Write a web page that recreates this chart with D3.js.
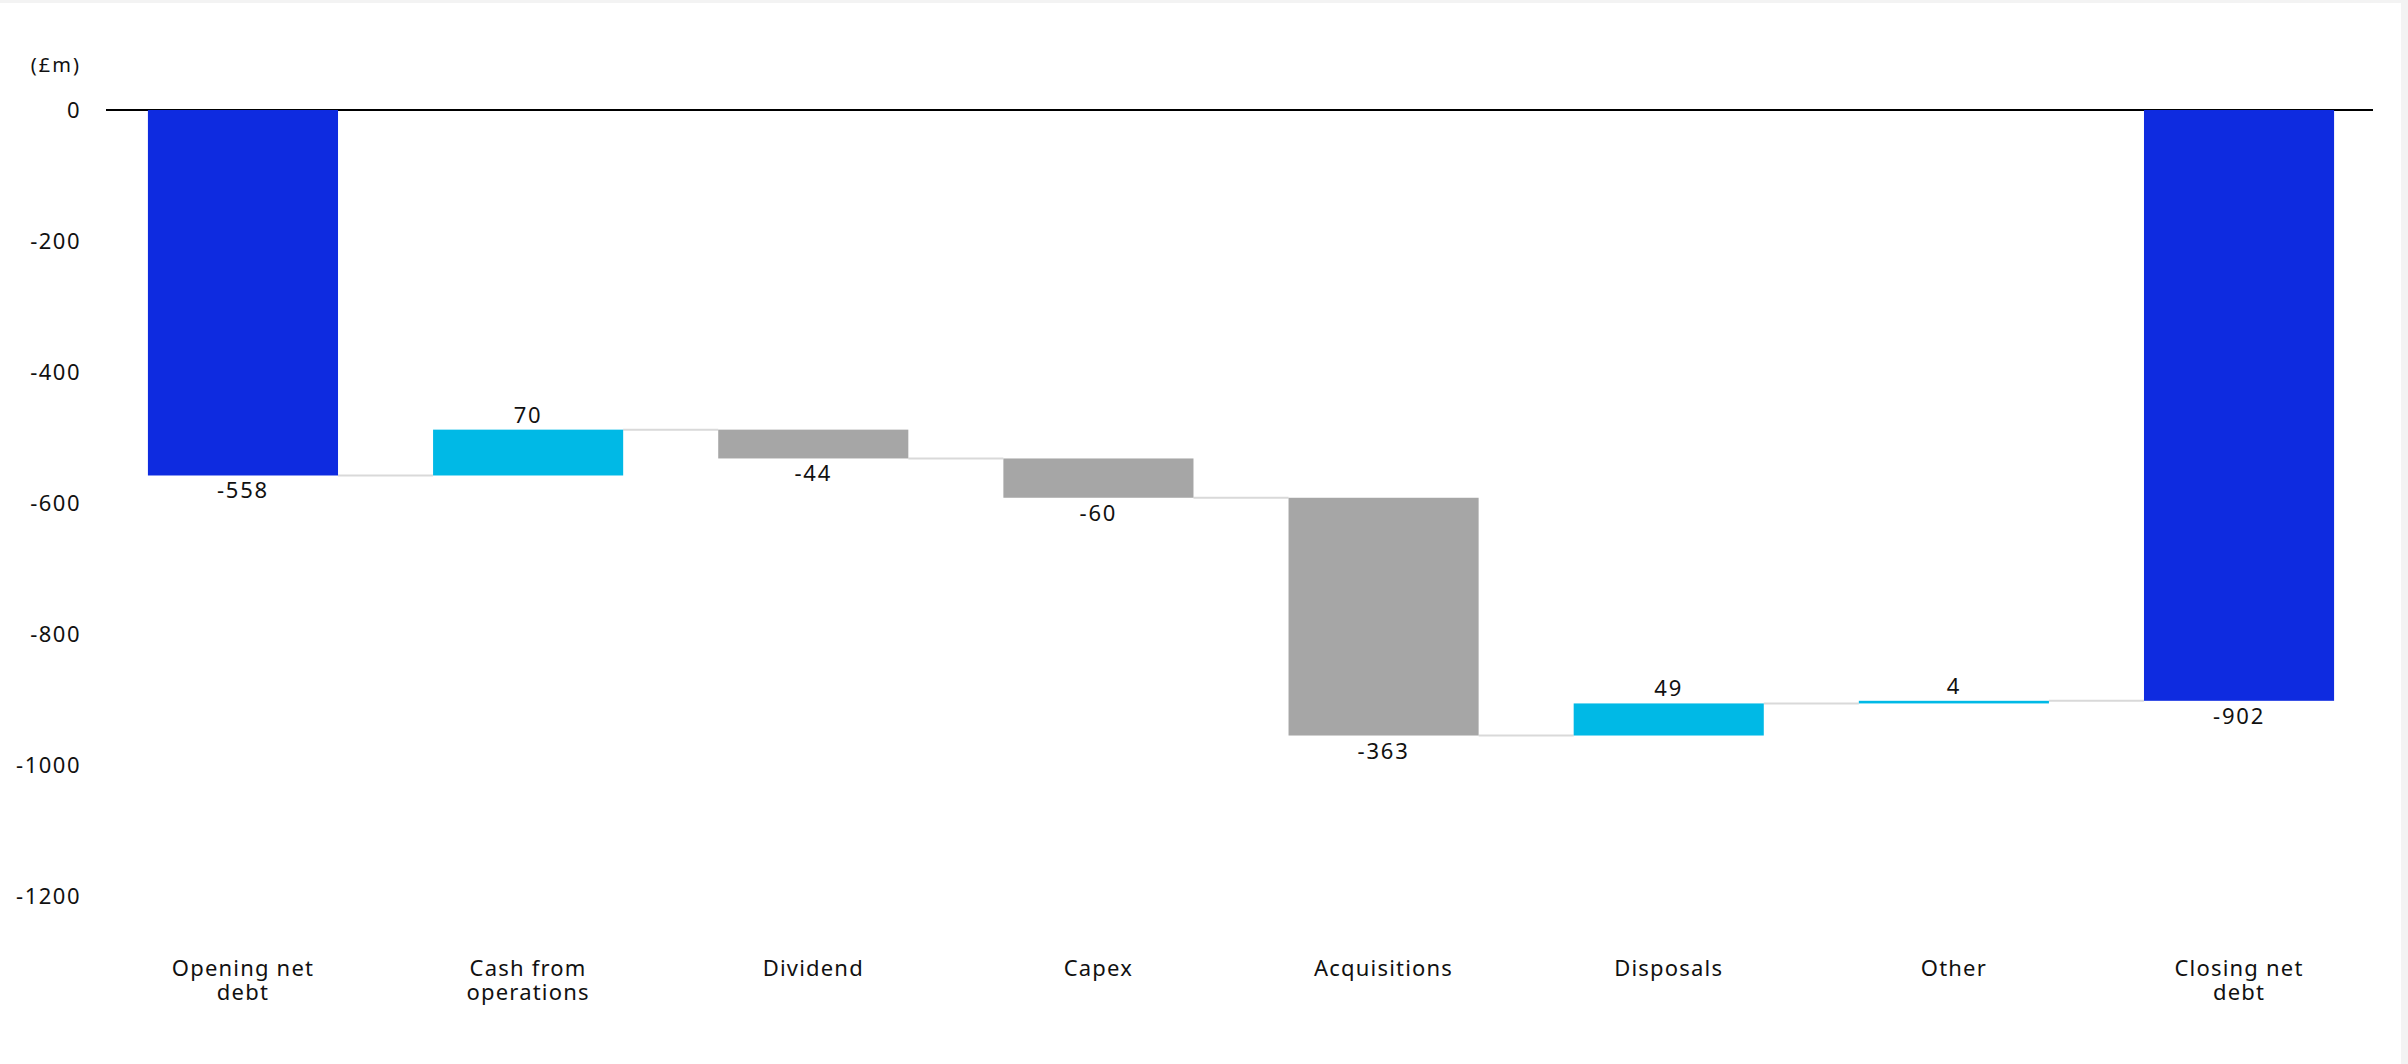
<!DOCTYPE html>
<html>
<head>
<meta charset="utf-8">
<script src="https://cdn.jsdelivr.net/npm/d3@7"></script>
<style>
  html, body { margin: 0; padding: 0; background: #f3f3f3; }
  svg { display: block; }
  text { font-family: "Noto Sans", sans-serif; fill: #111; }
</style>
</head>
<body>
<svg id="chart" width="2408" height="1064"></svg>
<script>
// Net debt bridge (£m)
const categories = ["Opening net debt", "Cash from operations", "Dividend", "Capex",
                    "Acquisitions", "Disposals", "Other", "Closing net debt"];
const values = [-558, 70, -44, -60, -363, 49, 4, -902];
const kinds = ["total", "delta", "delta", "delta", "delta", "delta", "delta", "total"];
const yTicks = [0, -200, -400, -600, -800, -1000, -1200];
const unitLabel = "(£m)";

const colors = { total: "#0e2be0", up: "#00b9e6", down: "#a6a6a6", connector: "#d9d9d9" };

// Running totals: each step starts where the previous one ended
let run = 0;
const steps = categories.map((c, i) => {
  const v = values[i];
  let start, end;
  if (kinds[i] === "total") { start = 0; end = v; }
  else { start = run; end = run + v; }
  run = end;
  return { cat: c, value: v, kind: kinds[i], start, end };
});

const svg = d3.select("#chart");
svg.append("rect").attr("x", 0).attr("y", 3).attr("width", 2401).attr("height", 1061).attr("fill", "#ffffff");

const x = d3.scaleBand().domain(categories).range([106, 2376])
  .paddingInner(1 / 3).paddingOuter(0.147);
const y = d3.scaleLinear().domain([-1200, 0]).range([896, 110]);

// Y axis tick labels (plain hyphen for negatives)
const yAxis = d3.axisLeft(y).tickValues(yTicks).tickSize(0).tickPadding(0).tickFormat(d => String(d));
const yg = svg.append("g").attr("transform", "translate(81,0)").call(yAxis);
yg.select(".domain").remove();
yg.selectAll("text").attr("font-size", 22).attr("font-family", "Noto Sans").attr("fill", "#111")
  .attr("letter-spacing", 1.5).attr("dy", "0.35em");

svg.append("text").attr("x", 81).attr("y", 72).attr("text-anchor", "end")
  .attr("font-size", 20).attr("letter-spacing", 2).text(unitLabel);

// Zero line
svg.append("line").attr("x1", 106).attr("x2", 2373).attr("y1", y(0)).attr("y2", y(0))
  .attr("stroke", "#000").attr("stroke-width", 2);

// Connectors between consecutive bars
steps.slice(0, -1).forEach((s, i) => {
  svg.append("line")
    .attr("x1", x(s.cat) + x.bandwidth())
    .attr("x2", x(steps[i + 1].cat))
    .attr("y1", y(s.end)).attr("y2", y(s.end))
    .attr("stroke", colors.connector).attr("stroke-width", 2);
});

// Bars
svg.selectAll("rect.bar").data(steps).join("rect").attr("class", "bar")
  .attr("x", d => x(d.cat))
  .attr("width", x.bandwidth())
  .attr("y", d => y(Math.max(d.start, d.end)))
  .attr("height", d => Math.abs(y(d.start) - y(d.end)))
  .attr("fill", d => d.kind === "total" ? colors.total : (d.value >= 0 ? colors.up : colors.down));

// Value labels: above rising steps, below falling ones and totals
svg.selectAll("text.val").data(steps).join("text").attr("class", "val")
  .attr("x", d => x(d.cat) + x.bandwidth() / 2)
  .attr("y", d => d.value >= 0 ? y(Math.max(d.start, d.end)) - 7 : y(Math.min(d.start, d.end)) + 23)
  .attr("text-anchor", "middle").attr("font-size", 22).attr("letter-spacing", 1.8)
  .text(d => d.value);

// Category labels, wrapped to two lines where needed
const wrap = {
  "Opening net debt": ["Opening net", "debt"],
  "Cash from operations": ["Cash from", "operations"],
  "Closing net debt": ["Closing net", "debt"]
};
categories.forEach(c => {
  const lines = wrap[c] || [c];
  const t = svg.append("text").attr("text-anchor", "middle").attr("font-size", 22)
    .attr("letter-spacing", 1.2);
  lines.forEach((ln, k) => {
    t.append("tspan").attr("x", x(c) + x.bandwidth() / 2).attr("y", 976 + k * 24).text(ln);
  });
});
</script>
</body>
</html>
